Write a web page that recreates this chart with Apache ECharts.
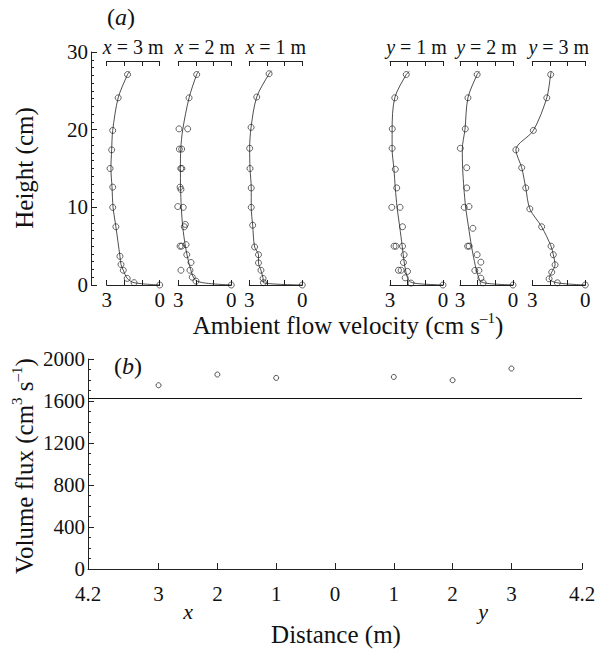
<!DOCTYPE html>
<html><head><meta charset="utf-8">
<script src="https://cdn.jsdelivr.net/npm/echarts@6/dist/echarts.min.js"></script>
<style>html,body{margin:0;padding:0;background:#fff}#c{width:599px;height:652px}</style>
</head><body><div id="c"></div>
<script>
// ---------------- DATA ----------------
// Panel (a): velocity profiles (velocity cm/s, height cm)
const profileAxes = ['x', 'x', 'x', 'y', 'y', 'y'];
const profileDistances = [3, 2, 1, 1, 2, 3];

// x = 3 m
const x3Height   = [27.1, 24.1, 19.9, 17.4, 15.0, 12.6, 10.0, 7.5, 3.7, 2.65, 1.9, 0.85, 0.3, 0];
const x3Velocity = [1.82, 2.35, 2.66, 2.72, 2.81, 2.66, 2.66, 2.48, 2.25, 2.19, 2.06, 1.84, 1.45, 0];
const x3CurveH   = [27.5, 27.1, 24.1, 19.9, 17.4, 15.0, 12.6, 10.0, 7.5, 3.7, 2.65, 1.9, 0.85, 0.3, 0];
const x3CurveV   = [1.70, 1.82, 2.35, 2.66, 2.72, 2.76, 2.70, 2.64, 2.48, 2.25, 2.19, 2.06, 1.84, 1.45, 0];

// x = 2 m
const x2Height   = [27.1, 24.1, 20.1, 20.1, 17.5, 17.5, 15.0, 15.0, 12.6, 12.3, 10.1, 10.0, 7.8, 7.5, 5.0, 5.0, 5.2, 3.9, 2.9, 1.9, 1.9, 1.0, 0.5, 0];
const x2Velocity = [1.96, 2.39, 2.96, 2.47, 2.94, 2.81, 2.86, 2.80, 2.90, 2.85, 3.03, 2.72, 2.60, 2.66, 2.90, 2.81, 2.56, 2.52, 2.28, 2.85, 2.34, 2.21, 2.00, 0];
const x2CurveH   = [27.5, 27.1, 24.1, 20.0, 17.5, 15.0, 12.5, 10.0, 7.5, 5.0, 3.0, 2.0, 1.0, 0.5, 0.2, 0];
const x2CurveV   = [1.85, 1.96, 2.39, 2.75, 2.86, 2.88, 2.87, 2.83, 2.75, 2.60, 2.42, 2.30, 2.15, 1.95, 1.30, 0];

// x = 1 m
const x1Height   = [27.2, 24.2, 20.3, 17.6, 15.0, 12.5, 10.0, 7.7, 4.9, 3.9, 2.85, 1.9, 0.84, 0.3, 0];
const x1Velocity = [1.88, 2.58, 2.90, 2.98, 2.96, 2.89, 2.89, 2.81, 2.70, 2.48, 2.48, 2.34, 2.22, 2.20, 0];
const x1CurveH   = [27.6, 27.2, 24.2, 20.3, 17.6, 15.0, 12.5, 10.0, 7.7, 4.9, 3.9, 2.85, 1.9, 0.84, 0.3, 0];
const x1CurveV   = [1.73, 1.88, 2.58, 2.90, 2.98, 2.96, 2.89, 2.89, 2.81, 2.70, 2.48, 2.48, 2.34, 2.22, 2.20, 0];

// y = 1 m
const y1Height   = [27.1, 24.1, 20.1, 17.6, 14.9, 12.5, 10.0, 10.0, 7.5, 5.0, 5.0, 5.0, 3.9, 2.9, 1.9, 1.9, 1.75, 0.93, 0.25, 0];
const y1Velocity = [2.08, 2.73, 2.87, 2.88, 2.70, 2.62, 2.90, 2.43, 2.29, 2.77, 2.66, 2.29, 2.20, 2.24, 2.52, 2.37, 2.01, 2.14, 1.81, 0];
const y1CurveH   = [27.5, 27.1, 24.1, 20.0, 17.5, 15.0, 12.5, 10.0, 7.5, 5.0, 3.0, 1.9, 1.0, 0.4, 0.15, 0];
const y1CurveV   = [1.90, 2.08, 2.73, 2.88, 2.88, 2.78, 2.70, 2.60, 2.45, 2.31, 2.20, 2.12, 2.02, 1.85, 1.30, 0];

// y = 2 m
const y2Height   = [27.1, 24.1, 20.1, 17.6, 15.1, 12.5, 10.0, 10.1, 7.3, 5.0, 5.0, 3.9, 2.94, 1.87, 1.87, 0.88, 0.28, 0];
const y2Velocity = [2.03, 2.55, 2.70, 2.98, 2.62, 2.62, 2.76, 2.49, 2.27, 2.57, 2.48, 2.03, 1.82, 2.16, 1.93, 1.82, 1.69, 0];
const y2CurveH   = [27.5, 27.1, 24.1, 20.0, 17.5, 15.0, 12.5, 10.0, 7.5, 5.0, 3.0, 2.0, 1.0, 0.4, 0.15, 0];
const y2CurveV   = [1.90, 2.03, 2.55, 2.72, 2.87, 2.85, 2.78, 2.68, 2.52, 2.35, 2.18, 2.08, 1.95, 1.80, 1.20, 0];

// y = 3 m
const y3Height   = [27.1, 24.1, 19.9, 17.4, 15.1, 12.5, 9.8, 7.5, 5.0, 3.9, 2.6, 1.65, 0.8, 0.28, 0];
const y3Velocity = [1.96, 2.18, 2.94, 3.93, 3.60, 3.37, 3.14, 2.47, 1.94, 1.81, 1.71, 1.90, 2.05, 1.58, 0];
const y3CurveH   = [27.5, 27.1, 24.1, 19.9, 17.4, 15.1, 12.5, 9.8, 7.5, 5.0, 3.9, 2.6, 1.65, 0.8, 0.28, 0];
const y3CurveV   = [1.93, 1.96, 2.18, 2.94, 3.93, 3.60, 3.37, 3.14, 2.47, 1.94, 1.81, 1.71, 1.90, 2.05, 1.58, 0];

// Panel (b): volume flux
const fluxSide = ['x', 'x', 'x', 'y', 'y', 'y'];
const fluxDistance = [3, 2, 1, 1, 2, 3];
const fluxValues = [1750, 1852, 1820, 1829, 1798, 1909];
const fluxReference = 1630;
const distanceTicks = [-4.2, -3, -2, -1, 0, 1, 2, 3, 4.2];

// ---------------- LAYOUT / STYLE ----------------
const FONT = 'Liberation Serif, Times New Roman, Times, serif';
const INK = '#111';
const AXIS = '#222';
const profiles = [
  [x3Height, x3Velocity, x3CurveH, x3CurveV],
  [x2Height, x2Velocity, x2CurveH, x2CurveV],
  [x1Height, x1Velocity, x1CurveH, x1CurveV],
  [y1Height, y1Velocity, y1CurveH, y1CurveV],
  [y2Height, y2Velocity, y2CurveH, y2CurveV],
  [y3Height, y3Velocity, y3CurveH, y3CurveV]
];
const gridLefts = [106.7, 178.3, 249.3, 390, 460, 532.3];
const gridW = 53;
const aTopMain = 52, aBottom = 285, aTopProfile = 61;
const profileYMax = 30 * (aBottom - aTopProfile) / (aBottom - aTopMain);
const EXTRA = 1.5; // extra velocity room on hidden data axes (points beyond 3 cm/s)

const grids = [{ left: 91, top: aTopMain, width: 1, height: aBottom - aTopMain }];
const xAxes = [{ gridIndex: 0, type: 'value', show: false, min: 0, max: 1 }];
const yAxes = [{
  gridIndex: 0, type: 'value', min: 0, max: 30, interval: 10,
  axisLine: { show: true, onZero: false, lineStyle: { color: AXIS, width: 1 } },
  axisTick: { show: true, inside: true, length: 6, lineStyle: { color: AXIS } },
  minorTick: { show: true, splitNumber: 10, length: 3, lineStyle: { color: AXIS } },
  axisLabel: { fontFamily: FONT, fontSize: 21, color: INK, margin: 3 },
  splitLine: { show: false }
}];
const series = [];
const graphics = [];

profiles.forEach((p, i) => {
  const g = grids.length;
  grids.push({ left: gridLefts[i], top: aTopProfile, width: gridW, height: aBottom - aTopProfile });
  const common = {
    gridIndex: g, type: 'value', min: 0, max: 3, interval: 1, inverse: true,
    axisLine: { show: true, onZero: false, lineStyle: { color: AXIS, width: 1 } },
    axisTick: { show: true, inside: true, length: 5, lineStyle: { color: AXIS } },
    splitLine: { show: false }
  };
  xAxes.push(Object.assign({}, common, {
    position: 'bottom',
    axisLabel: { fontFamily: FONT, fontSize: 21, color: INK, margin: 4,
      formatter: v => (v === 3 || v === 0) ? String(v) : '' }
  }));
  xAxes.push(Object.assign({}, common, { position: 'top', axisLabel: { show: false } }));
  yAxes.push({ gridIndex: g, type: 'value', min: 0, max: profileYMax, show: false, splitLine: { show: false } });

  // hidden data grid with the same pixel scale, widened to the left
  const d = grids.length;
  const extraPx = gridW / 3 * EXTRA;
  grids.push({ left: gridLefts[i] - extraPx, top: aTopProfile, width: gridW + extraPx, height: aBottom - aTopProfile });
  const dx = xAxes.length;
  xAxes.push({ gridIndex: d, type: 'value', min: 0, max: 3 + EXTRA, inverse: true, show: false });
  const dy = yAxes.length;
  yAxes.push({ gridIndex: d, type: 'value', min: 0, max: profileYMax, show: false });

  const [H, V, CH, CV] = p;
  series.push({
    type: 'line', xAxisIndex: dx, yAxisIndex: dy, smooth: 0.3,
    symbol: 'none', lineStyle: { color: AXIS, width: 0.8 },
    data: CH.map((h, k) => [CV[k], h]), silent: true
  });
  series.push({
    type: 'scatter', xAxisIndex: dx, yAxisIndex: dy,
    symbol: 'circle', symbolSize: 6,
    itemStyle: { color: 'rgba(255,255,255,0)', borderColor: INK, borderWidth: 0.8 },
    data: H.map((h, k) => [V[k], h])
  });
  graphics.push({
    type: 'text', x: gridLefts[i] + gridW / 2, y: 47,
    style: {
      text: '{i|' + profileAxes[i] + '}{n| = ' + profileDistances[i] + ' m}',
      align: 'center', verticalAlign: 'middle',
      rich: {
        i: { fontFamily: FONT, fontSize: 20, fontStyle: 'italic', fill: INK },
        n: { fontFamily: FONT, fontSize: 20, fill: INK }
      }
    }
  });
});

// Panel (b)
const gb = grids.length;
grids.push({ left: 88, top: 359, width: 494, height: 210 });
const xbIndex = xAxes.length;
xAxes.push({
  gridIndex: gb, type: 'value', min: -4.2, max: 4.2,
  axisLine: { show: true, onZero: false, lineStyle: { color: AXIS, width: 1 } },
  axisTick: { show: true, inside: true, length: 6, customValues: distanceTicks, lineStyle: { color: AXIS } },
  axisLabel: { fontFamily: FONT, fontSize: 21, color: INK, margin: 14, customValues: distanceTicks,
    formatter: v => String(Math.abs(Math.round(v * 10) / 10)) },
  splitLine: { show: false }
});
const ybIndex = yAxes.length;
yAxes.push({
  gridIndex: gb, type: 'value', min: 0, max: 2000, interval: 400,
  axisLine: { show: true, onZero: false, lineStyle: { color: AXIS, width: 1 } },
  axisTick: { show: true, inside: true, length: 6, lineStyle: { color: AXIS } },
  minorTick: { show: true, splitNumber: 4, length: 3, lineStyle: { color: AXIS } },
  axisLabel: { fontFamily: FONT, fontSize: 21, color: INK, margin: 3, formatter: v => String(v) },
  splitLine: { show: false }
});
series.push({
  type: 'scatter', xAxisIndex: xbIndex, yAxisIndex: ybIndex,
  symbol: 'circle', symbolSize: 5,
  itemStyle: { color: 'rgba(255,255,255,0)', borderColor: INK, borderWidth: 0.9 },
  data: fluxValues.map((v, k) => [fluxSide[k] === 'x' ? -fluxDistance[k] : fluxDistance[k], v]),
  markLine: {
    silent: true, symbol: 'none', label: { show: false },
    lineStyle: { color: INK, width: 1, type: 'solid' },
    data: [{ yAxis: fluxReference }]
  }
});

// Titles / annotations (real text)
function supText(before, sup, after, size) {
  return {
    text: '{n|' + before + '}{s|' + sup + '}{n|' + after + '}',
    rich: {
      n: { fontFamily: FONT, fontSize: size, lineHeight: size + 4, fill: INK },
      s: { fontFamily: FONT, fontSize: Math.round(size * 0.6), lineHeight: Math.round(size * 0.6) + 2, verticalAlign: 'top', fill: INK }
    }
  };
}
graphics.push(
  { type: 'text', x: 121, y: 17, style: { text: '{n|(}{i|a}{n|)}', align: 'center', verticalAlign: 'middle',
      rich: { n: { fontFamily: FONT, fontSize: 24, fill: INK }, i: { fontFamily: FONT, fontSize: 24, fontStyle: 'italic', fill: INK } } } },
  { type: 'text', x: 128, y: 366, style: { text: '{n|(}{i|b}{n|)}', align: 'center', verticalAlign: 'middle',
      rich: { n: { fontFamily: FONT, fontSize: 24, fill: INK }, i: { fontFamily: FONT, fontSize: 24, fontStyle: 'italic', fill: INK } } } },
  { type: 'text', x: 24, y: 168, rotation: Math.PI / 2,
    style: { text: 'Height (cm)', fontFamily: FONT, fontSize: 25, fill: INK, align: 'center', verticalAlign: 'middle' } },
  { type: 'text', x: 348, y: 325,
    style: Object.assign({ align: 'center', verticalAlign: 'middle' }, supText('Ambient flow velocity (cm s', '–1', ')', 25)) },
  { type: 'text', x: 24, y: 466, rotation: Math.PI / 2,
    style: { align: 'center', verticalAlign: 'middle',
      text: '{n|Volume flux (cm}{s|3}{n| s}{s|–1}{n|)}',
      rich: {
        n: { fontFamily: FONT, fontSize: 25, lineHeight: 29, fill: INK },
        s: { fontFamily: FONT, fontSize: 15, lineHeight: 17, verticalAlign: 'top', fill: INK }
      } } },
  { type: 'text', x: 188, y: 611, style: { text: 'x', fontFamily: FONT, fontSize: 22, fontStyle: 'italic', fill: INK, align: 'center', verticalAlign: 'middle' } },
  { type: 'text', x: 483, y: 611, style: { text: 'y', fontFamily: FONT, fontSize: 22, fontStyle: 'italic', fill: INK, align: 'center', verticalAlign: 'middle' } },
  { type: 'text', x: 336, y: 634, style: { text: 'Distance (m)', fontFamily: FONT, fontSize: 25, fill: INK, align: 'center', verticalAlign: 'middle' } }
);

const chart = echarts.init(document.getElementById('c'), null, { renderer: 'svg' });
chart.setOption({
  animation: false,
  backgroundColor: '#fff',
  grid: grids, xAxis: xAxes, yAxis: yAxes, series: series, graphic: graphics
});
</script></body></html>
